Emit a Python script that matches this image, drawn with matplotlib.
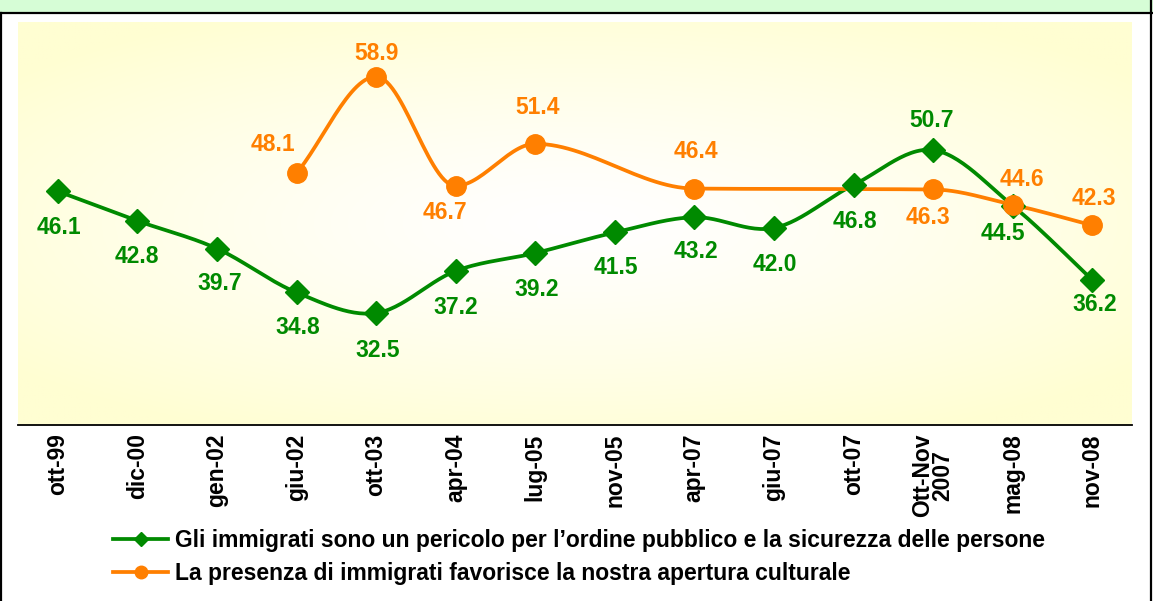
import numpy as np
import matplotlib
matplotlib.use("Agg")
import matplotlib.pyplot as plt
from matplotlib.lines import Line2D
from matplotlib.patches import Rectangle

plt.rcParams['font.family'] = ['Liberation Sans', 'DejaVu Sans']
plt.rcParams['font.weight'] = 'bold'

# dati
periodi = ["ott-99", "dic-00", "gen-02", "giu-02", "ott-03", "apr-04", "lug-05",
           "nov-05", "apr-07", "giu-07", "ott-07", "Ott-Nov\n2007", "mag-08", "nov-08"]
pericolo = [46.1, 42.8, 39.7, 34.8, 32.5, 37.2, 39.2, 41.5, 43.2, 42.0, 46.8, 50.7, 44.5, 36.2]
apertura = [np.nan, np.nan, np.nan, 48.1, 58.9, 46.7, 51.4, np.nan, 46.4, np.nan, np.nan, 46.3, 44.6, 42.3]

nome_pericolo = "Gli immigrati sono un pericolo per l\u2019ordine pubblico e la sicurezza delle persone"
nome_apertura = "La presenza di immigrati favorisce la nostra apertura culturale"

# offset etichette (punti)
off_pericolo = [(1, -26), (0, -26), (2, -25), (1, -25), (1, -27), (0, -26), (1, -26),
                (1, -25), (1, -25), (1, -26), (1, -26), (-1, 21), (-7, -20), (2, -18)]
off_apertura = [None, None, None, (-17, 21), (0, 17), (-8, -19), (2, 26), None,
                (1, 27), None, None, (-4, -20), (7, 18), (1, 19)]

verde = "#008a00"
arancio = "#ff7f00"


def bezier(P, T, n=30):
    out = [P[0]]
    for i in range(len(P) - 1):
        p1, p2 = P[i], P[i + 1]
        c1 = p1 + T[i] / 3
        c2 = p2 - T[i + 1] / 3
        t = np.linspace(0, 1, n)[1:, None]
        seg = (1 - t) ** 3 * p1 + 3 * (1 - t) ** 2 * t * c1 + 3 * (1 - t) * t ** 2 * c2 + t ** 3 * p2
        out.extend(seg)
    out = np.array(out)
    return out[:, 0], out[:, 1]


def smooth(xs, ys):
    # curva smussata tipo Excel (catmull-rom)
    P = np.column_stack([xs, ys]).astype(float)
    T = []
    for i in range(len(P)):
        p0 = P[i - 1] if i > 0 else P[i]
        p2 = P[i + 1] if i + 1 < len(P) else P[i]
        T.append((p2 - p0) / 2)
    return bezier(P, np.array(T))


def smooth_mono(xs, ys):
    # come sopra ma senza rimbalzi (pchip)
    xs = np.asarray(xs, float)
    ys = np.asarray(ys, float)
    h = np.diff(xs)
    s = np.diff(ys) / h
    m = np.zeros(len(xs))
    m[0], m[-1] = s[0], s[-1]
    for i in range(1, len(xs) - 1):
        if s[i - 1] * s[i] <= 0:
            m[i] = 0
        else:
            w1 = 2 * h[i] + h[i - 1]
            w2 = h[i] + 2 * h[i - 1]
            m[i] = (w1 + w2) / (w1 / s[i - 1] + w2 / s[i])
    out_x, out_y = [xs[0]], [ys[0]]
    for i in range(len(xs) - 1):
        t = np.linspace(0, 1, 30)[1:]
        h00 = 2 * t ** 3 - 3 * t ** 2 + 1
        h10 = t ** 3 - 2 * t ** 2 + t
        h01 = -2 * t ** 3 + 3 * t ** 2
        h11 = t ** 3 - t ** 2
        out_x.extend(xs[i] + t * h[i])
        out_y.extend(h00 * ys[i] + h10 * h[i] * m[i] + h01 * ys[i + 1] + h11 * h[i] * m[i + 1])
    return np.array(out_x), np.array(out_y)


fig = plt.figure(figsize=(11.53, 6.01), dpi=100)
W, H = 1153, 601

# cornice
fig.patches.append(Rectangle((0, 1 - 12 / H), 1, 12 / H, transform=fig.transFigure,
                             facecolor="#d6fdd6", edgecolor="none", zorder=0))
fig.lines.append(Line2D([0, 1], [1 - 12.5 / H] * 2, transform=fig.transFigure, color="black", lw=1.6))
fig.lines.append(Line2D([1 / W] * 2, [0, 1 - 12.5 / H], transform=fig.transFigure, color="black", lw=1.6))
fig.lines.append(Line2D([1150.5 / W] * 2, [0, 1], transform=fig.transFigure, color="black", lw=1.6))

ax = fig.add_axes([18 / W, 1 - 425 / H, (1132 - 18) / W, (425 - 22) / H])

# sfondo sfumato
gx, gy = np.meshgrid(np.linspace(-1, 1, 300), np.linspace(-1, 1, 200))
d = np.clip(np.sqrt(gx ** 2 + (gy * 1.1) ** 2) / 1.3, 0, 1) ** 1.3
giallo = np.array([255, 254, 210]) / 255
grad = np.ones((200, 300, 3)) * (1 - d[..., None]) + giallo * d[..., None]
ax.imshow(grad, extent=(-0.5, 13.5, 20, 65), aspect='auto', zorder=0, origin='lower')

x = np.arange(len(periodi))
p = np.array(pericolo)
a = np.array(apertura)

sx, sy = smooth(x, p)
ax.plot(sx, sy, color=verde, lw=2.7, zorder=3)
ax.plot(x, p, ls='none', marker='D', ms=12, color=verde, zorder=4)

ok = ~np.isnan(a)
sx, sy = smooth_mono(x[ok], a[ok])
ax.plot(sx, sy, color=arancio, lw=2.7, zorder=3)
ax.plot(x[ok], a[ok], ls='none', marker='o', ms=14, color=arancio, zorder=4)

for i, v in enumerate(pericolo):
    ax.annotate(f"{v:.1f}", (i, v), xytext=off_pericolo[i], textcoords='offset points',
                ha='center', va='center', color=verde, fontsize=16.5, fontweight='bold', zorder=5)
for i, v in enumerate(apertura):
    if off_apertura[i] is None:
        continue
    ax.annotate(f"{v:.1f}", (i, v), xytext=off_apertura[i], textcoords='offset points',
                ha='center', va='center', color=arancio, fontsize=16.5, fontweight='bold', zorder=5)

ax.set_xlim(-0.5, 13.5)
ax.set_ylim(20, 65)
ax.set_xticks(x)
ax.set_xticklabels(periodi, rotation=90, fontsize=16.5, fontweight='bold', linespacing=0.85)
ax.tick_params(axis='x', length=0, pad=6)
ax.set_yticks([])
for s in ['top', 'left', 'right']:
    ax.spines[s].set_visible(False)
ax.spines['bottom'].set_linewidth(1.3)

h1 = Line2D([], [], color=verde, lw=2.7, marker='D', ms=7)
h2 = Line2D([], [], color=arancio, lw=2.7, marker='o', ms=9)
fig.legend([h1, h2], [nome_pericolo, nome_apertura], loc='center left',
           bbox_to_anchor=(113 / W, 1 - 557 / H), frameon=False,
           handlelength=2.4, handletextpad=0.3, labelspacing=0.4,
           borderpad=0, borderaxespad=0, prop={'weight': 'bold', 'size': 16.5})

fig.savefig("out.png", dpi=100)
